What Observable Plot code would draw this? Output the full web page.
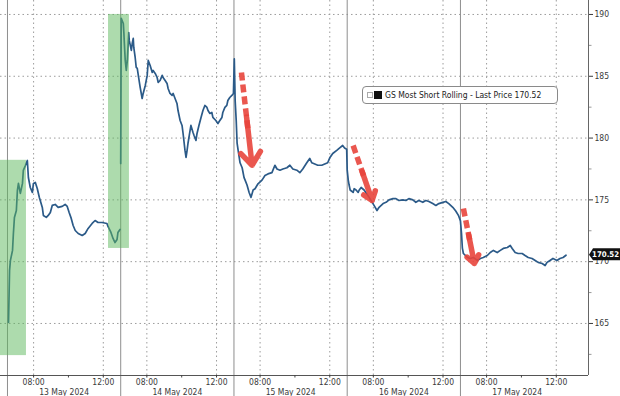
<!DOCTYPE html>
<html>
<head>
<meta charset="utf-8">
<script src="https://cdn.jsdelivr.net/npm/d3@7"></script>
<script src="https://cdn.jsdelivr.net/npm/@observablehq/plot@0.6"></script>
<style>
  body { margin: 0; background: #fff; }
  #wrap { position: relative; width: 620px; height: 396px; overflow: hidden;
          font-family: "DejaVu Sans Condensed", "DejaVu Sans", sans-serif; font-stretch: condensed; }
  #legend { position: absolute; left: 362px; top: 86px; width: 196px; height: 18px; box-sizing: border-box;
            border: 1px solid #8a8a8a; border-radius: 4px; background: #fff;
            display: flex; align-items: center; padding-left: 4px; font-size: 8.5px; color: #222; white-space: nowrap; }
  #legend .g { width: 4px; height: 4px; border: 1px solid #aaa; margin-right: 1px; }
  #legend .b { width: 8px; height: 8px; background: #111; margin-right: 3px; }
</style>
</head>
<body>
<div id="wrap"><div id="legend"></div></div>
<script>
// ---- data ----
const days = ["13 May 2024", "14 May 2024", "15 May 2024", "16 May 2024", "17 May 2024"];
const sessionOpen = 6.5;   // 06:30
const dayLength = 6.5;     // hours shown per day
const labelHours = [8, 12];
const timeLabels = ["08:00", "12:00"];
const minorHours = [10];
const yTicks = [165, 170, 175, 180, 185, 190];
const yMinor = [162.5, 167.5, 172.5, 177.5, 182.5, 187.5];
const seriesName = "GS Most Short Rolling";
const lastPrice = 170.52;

// [hour of day, price]
const may13 = [[6.56,165.08],[6.62,169.29],[6.67,170.10],[6.79,170.91],[6.84,172.28],[6.90,173.58],[7.01,174.14],[7.07,175.76],[7.13,176.33],[7.24,175.52],[7.36,176.33],[7.41,177.38],[7.53,177.78],[7.64,178.19],[7.70,176.81],[7.81,176.00],[7.93,175.60],[7.99,176.33],[8.10,176.41],[8.21,175.92],[8.33,175.19],[8.50,174.39],[8.56,173.74],[8.73,173.58],[8.84,173.74],[8.96,173.98],[9.07,174.55],[9.24,174.63],[9.41,174.39],[9.64,174.47],[9.81,174.63],[9.93,174.47],[10.04,173.98],[10.16,173.50],[10.27,172.93],[10.39,172.52],[10.56,172.28],[10.79,172.12],[10.96,172.28],[11.13,172.69],[11.36,173.09],[11.53,173.33],[11.70,173.17],[11.93,173.17],[12.21,173.09],[12.27,172.85],[12.44,172.36],[12.56,171.88],[12.67,171.55],[12.79,171.80],[12.84,172.36],[12.96,172.61]];
const may14 = [[6.50,177.95],[6.53,189.68],[6.65,189.27],[6.68,188.54],[6.71,187.65],[6.76,186.28],[6.82,185.47],[6.88,186.28],[6.93,187.65],[6.96,188.54],[6.99,187.90],[7.11,187.09],[7.16,187.65],[7.22,188.06],[7.25,187.33],[7.33,186.52],[7.39,185.71],[7.45,185.63],[7.51,185.07],[7.62,184.09],[7.73,183.20],[7.79,183.61],[7.91,184.26],[8.02,185.07],[8.08,186.28],[8.19,185.87],[8.31,185.31],[8.36,185.47],[8.48,185.23],[8.59,184.90],[8.65,184.50],[8.76,184.66],[8.88,185.07],[8.93,184.90],[9.05,184.66],[9.16,184.42],[9.22,184.01],[9.33,183.61],[9.45,183.45],[9.51,183.61],[9.62,183.20],[9.73,182.80],[9.79,182.23],[9.91,181.42],[10.02,181.02],[10.08,180.37],[10.19,179.00],[10.25,178.43],[10.31,179.00],[10.36,179.56],[10.48,180.61],[10.53,181.02],[10.65,180.45],[10.71,180.21],[10.82,179.81],[10.88,180.37],[10.99,181.02],[11.11,181.67],[11.22,182.23],[11.33,182.64],[11.45,182.48],[11.51,182.23],[11.62,181.99],[11.73,182.07],[11.79,181.67],[11.96,181.42],[12.08,181.18],[12.19,181.42],[12.31,181.67],[12.36,182.07],[12.48,182.48],[12.59,182.64],[12.65,183.04],[12.76,183.28],[12.88,183.45],[12.97,183.60]];
const may15 = [[6.52,186.40],[6.57,183.00],[6.63,181.40],[6.68,179.60],[6.74,179.00],[6.85,178.00],[6.97,177.60],[7.08,176.80],[7.14,176.60],[7.25,176.20],[7.37,175.60],[7.48,175.20],[7.60,175.80],[7.71,175.90],[7.88,176.30],[8.11,176.60],[8.28,176.97],[8.45,177.10],[8.68,177.20],[8.85,177.80],[8.97,177.50],[9.14,177.40],[9.31,177.50],[9.54,177.60],[9.71,177.80],[9.88,177.50],[10.11,177.40],[10.28,177.20],[10.45,177.50],[10.68,178.00],[10.85,178.35],[10.97,178.00],[11.14,177.90],[11.31,177.80],[11.54,177.80],[11.71,177.90],[11.88,178.00],[12.00,178.40],[12.17,178.75],[12.40,179.00],[12.57,179.20],[12.74,179.40],[12.85,179.20],[12.97,179.10]];
const may16 = [[6.50,177.40],[6.56,176.60],[6.61,176.20],[6.67,175.80],[6.84,175.60],[6.90,175.90],[7.01,175.80],[7.13,175.60],[7.19,175.80],[7.30,176.00],[7.47,175.80],[7.76,175.20],[8.04,174.55],[8.21,174.14],[8.33,174.40],[8.56,174.70],[8.73,174.80],[8.90,175.00],[9.13,175.10],[9.30,175.10],[9.47,174.95],[9.70,175.00],[9.87,174.95],[10.04,175.10],[10.27,175.00],[10.44,174.80],[10.61,174.95],[10.84,174.80],[11.01,174.95],[11.19,174.87],[11.41,174.70],[11.59,174.55],[11.76,174.70],[11.99,174.80],[12.16,174.87],[12.33,174.70],[12.56,174.40],[12.73,174.10],[12.90,173.70]];
const may17 = [[6.50,173.30],[6.56,172.30],[6.61,171.10],[6.67,170.66],[6.90,170.34],[7.07,170.26],[7.24,170.34],[7.47,170.10],[7.64,170.26],[7.81,170.34],[8.04,170.50],[8.21,170.74],[8.39,170.91],[8.61,170.74],[8.79,170.91],[8.96,171.07],[9.19,171.15],[9.36,171.31],[9.47,171.07],[9.64,170.74],[9.81,170.66],[10.04,170.66],[10.21,170.50],[10.39,170.34],[10.61,170.26],[10.79,170.10],[10.96,169.94],[11.19,169.85],[11.36,169.69],[11.47,169.94],[11.64,170.10],[11.81,170.26],[12.04,170.10],[12.21,170.26],[12.39,170.34],[12.56,170.52]];

// green highlight boxes: [day, hour] start/end, price range
const highlights = [
  {d1: 0, h1: 6.10, d2: 0, h2: 7.59, lo: 162.4, hi: 178.2},
  {d1: 0, h1: 12.30, d2: 1, h2: 7.00, lo: 171.07, hi: 190.0}
];
// red dashed arrows: [day, hour, price] start -> end
const arrows = [
  {d: 2, h1: 6.93, p1: 185.3, h2: 7.54, p2: 177.8},
  {d: 3, h1: 6.84, p1: 179.4, h2: 7.93, p2: 174.95},
  {d: 4, h1: 6.67, p1: 174.3, h2: 7.30, p2: 169.85}
];

// ---- build ----
const tOf = (d, h) => d * dayLength + h - sessionOpen;
const dayPrices = [may13, may14, may15, may16, may17];
const rows = dayPrices.flatMap((pts, d) => pts.map(([h, p]) => ({t: tOf(d, h), price: p, seg: d === 0 ? 0 : 1})));
const xMin = tOf(0, 6.1), xMax = tOf(4, 13.85);
const yMin = 160.79, yMax = 191.13;

const fmt = new Map();
const xMajor = [];
days.forEach((_, d) => labelHours.forEach((h, i) => { const t = tOf(d, h); xMajor.push(t); fmt.set(t, timeLabels[i]); }));
const xMinor = days.flatMap((_, d) => minorHours.map(h => tOf(d, h)));
const dayMid = new Map(days.map((lab, d) => [tOf(d, sessionOpen + dayLength / 2), lab]));
const separators = days.map((_, d) => tOf(d, sessionOpen));

const boxes = highlights.map(b => ({x1: tOf(b.d1, b.h1), x2: tOf(b.d2, b.h2), y1: b.lo, y2: b.hi}));
const arr = arrows.map(a => {
  const x1 = tOf(a.d, a.h1), x2 = tOf(a.d, a.h2);
  const k = 0.62, k2 = 0.48;
  return {x1, y1: a.p1, x2, y2: a.p2,
          xm: x1 + (x2 - x1) * k, ym: a.p1 + (a.p2 - a.p1) * k,
          xh: x1 + (x2 - x1) * k2, yh: a.p1 + (a.p2 - a.p1) * k2};
});

const red = "#e8453c";
const plot = Plot.plot({
  width: 620, height: 396,
  marginLeft: 0, marginRight: 32, marginTop: 0, marginBottom: 21,
  style: {fontFamily: '"DejaVu Sans Condensed", "DejaVu Sans", sans-serif', fontSize: "8.5px", background: "#fff", color: "#333"},
  x: {type: "linear", domain: [xMin, xMax], label: null},
  y: {domain: [yMin, yMax], label: null},
  marks: [
    Plot.ruleY(yTicks, {stroke: "#9c9c9c", strokeDasharray: "1.5,3"}),
    Plot.ruleX(xMajor, {stroke: "#9c9c9c", strokeDasharray: "1.5,3"}),
    Plot.ruleX(separators, {stroke: "#8e8e8e", strokeWidth: 1, insetBottom: -21}),
    Plot.line(rows, {x: "t", y: "price", z: "seg", stroke: "#2b5a88", strokeWidth: 1.7}),
    Plot.rect(boxes, {x1: "x1", x2: "x2", y1: "y1", y2: "y2", fill: "#5cb85c", fillOpacity: 0.5}),
    Plot.link(arr, {x1: "x1", y1: "y1", x2: "xm", y2: "ym", stroke: red, strokeWidth: 5.5, strokeDasharray: "8,4", strokeOpacity: 0.9}),
    Plot.arrow(arr, {x1: "xh", y1: "yh", x2: "x2", y2: "y2", stroke: red, strokeWidth: 5.5, headLength: 11, headAngle: 75, strokeOpacity: 0.9}),
    Plot.ruleY([yMin], {stroke: "#555"}),
    Plot.ruleX([xMax], {stroke: "#666"}),
    Plot.axisX(xMinor, {anchor: "bottom", tickSize: 2.5, tickFormat: () => "", color: "#444", label: null}),
    Plot.axisX(xMajor, {anchor: "bottom", tickSize: 2.5, tickPadding: 0.5, tickFormat: t => fmt.get(t), color: "#3a3a3a", fontSize: 8.5, label: null}),
    Plot.axisX([...dayMid.keys()], {anchor: "bottom", tickSize: 0, tickPadding: 13, tickFormat: t => dayMid.get(t), color: "#3a3a3a", fontSize: 8.5, label: null}),
    Plot.axisY(yMinor, {anchor: "right", tickSize: 2.5, tickFormat: () => "", color: "#999", label: null}),
    Plot.axisY(yTicks, {anchor: "right", tickSize: 4, tickPadding: 2, color: "#3a3a3a", fontSize: 8.5, label: null})
  ]
});

// last price tag on the right axis (drawn on top of the axis label it covers)
const svg = d3.select(plot);
const px = plot.scale("x").apply(xMax);
const py = plot.scale("y").apply(lastPrice);
const tag = svg.append("g").attr("class", "last-price").attr("text-anchor", "start");
tag.append("path").attr("d", `M${px + 1},${py} l4,-6.5 h40 v12 h-40 z`).attr("fill", "#111");
tag.append("text").attr("x", px + 4).attr("y", py - 0.5).attr("dy", "0.35em").attr("text-anchor", "start")
  .attr("fill", "#fff").attr("font-size", "7.8px").attr("font-weight", "bold").text(lastPrice.toFixed(2));
tag.raise();

const wrap = document.getElementById("wrap");
wrap.insertBefore(plot, wrap.firstChild);
const lg = document.getElementById("legend");
lg.innerHTML = `<span class="g"></span><span class="b"></span><span>${seriesName} - Last Price ${lastPrice.toFixed(2)}</span>`;
</script>
</body>
</html>
